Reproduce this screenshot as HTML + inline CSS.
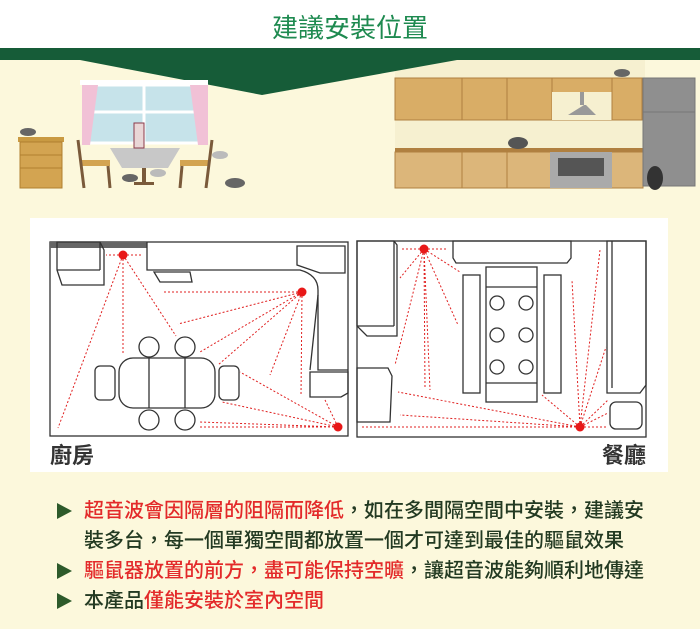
<!DOCTYPE html>
<html><head><meta charset="utf-8"><style>
body{margin:0;width:700px;height:629px;background:#fcf8dc;position:relative;overflow:hidden;font-family:"Liberation Sans","Noto Sans CJK TC",sans-serif}
.hdr{position:absolute;left:0;top:0;width:700px;height:48px;background:#fff}
.title{position:absolute;left:0;width:700px;top:8px;text-align:center;font-size:26px;color:#1e8a50}
.txt{position:absolute;left:84px;font-size:20px;color:#233a22;white-space:nowrap;line-height:30px;font-weight:500}
.r{color:#e32a2a}
.tri{position:absolute;left:57px;width:0;height:0;border-top:8px solid transparent;border-bottom:8px solid transparent;border-left:15px solid #2d5a2a}
</style></head><body>
<div class="hdr"></div>
<div class="title">建議安裝位置</div>
<svg width="700" height="629" style="position:absolute;left:0;top:0">
<rect x="395" y="60" width="250" height="88" fill="#f6f0d0"/>
<polygon points="0,48 700,48 700,60 457,60 262,95 80,60 0,60" fill="#165c38"/>
<rect x="80" y="80" width="128" height="5" fill="#fff"/>
<rect x="88" y="85" width="112" height="58" fill="#c6e3ea" stroke="#fff" stroke-width="3"/>
<line x1="144" y1="85" x2="144" y2="143" stroke="#fff" stroke-width="3"/>
<line x1="88" y1="112" x2="200" y2="112" stroke="#fff" stroke-width="3"/>
<polygon points="82,85 98,85 90,145 82,145" fill="#f1c1d6"/>
<polygon points="190,85 208,85 208,145 198,145" fill="#f1c1d6"/>
<rect x="18" y="137" width="46" height="5" fill="#c99a42"/>
<rect x="20" y="142" width="42" height="46" fill="#d3a451" stroke="#b07f30"/>
<line x1="20" y1="155" x2="62" y2="155" stroke="#b07f30"/><line x1="20" y1="168" x2="62" y2="168" stroke="#b07f30"/>
<polygon points="110,148 180,148 168,168 122,168" fill="#c8c8c8"/>
<rect x="142" y="168" width="4" height="14" fill="#7a5a3a"/>
<rect x="134" y="182" width="20" height="3" fill="#7a5a3a"/>
<rect x="134" y="123" width="10" height="25" fill="#e9d6d6" stroke="#8a3a4a"/>
<rect x="80" y="160" width="30" height="6" fill="#d3a451"/>
<rect x="180" y="160" width="30" height="6" fill="#d3a451"/>
<line x1="78" y1="140" x2="84" y2="188" stroke="#7a5a3a" stroke-width="3"/><line x1="108" y1="166" x2="110" y2="188" stroke="#7a5a3a" stroke-width="3"/>
<line x1="212" y1="140" x2="206" y2="188" stroke="#7a5a3a" stroke-width="3"/><line x1="182" y1="166" x2="180" y2="188" stroke="#7a5a3a" stroke-width="3"/>
<ellipse cx="28" cy="132" rx="8" ry="4" fill="#666"/>
<ellipse cx="130" cy="178" rx="8" ry="4" fill="#666"/>
<ellipse cx="235" cy="183" rx="10" ry="5" fill="#666"/>
<ellipse cx="220" cy="155" rx="8" ry="4" fill="#bbb"/>
<ellipse cx="158" cy="173" rx="8" ry="4" fill="#bbb"/>
<rect x="395" y="78" width="217" height="42" fill="#d9ad66" stroke="#b08040"/>
<line x1="462" y1="78" x2="462" y2="120" stroke="#b08040"/><line x1="507" y1="78" x2="507" y2="120" stroke="#b08040"/><line x1="552" y1="78" x2="552" y2="120" stroke="#b08040"/>
<rect x="552" y="92" width="60" height="28" fill="#f6f0d0"/>
<polygon points="568,115 596,115 586,105 580,105 580,92 584,92 584,105" fill="#999"/>
<rect x="612" y="78" width="30" height="42" fill="#d9ad66" stroke="#b08040"/>
<rect x="395" y="148" width="248" height="4" fill="#b08040"/>
<rect x="395" y="152" width="248" height="36" fill="#dcb67a" stroke="#b08040"/>
<line x1="462" y1="152" x2="462" y2="188" stroke="#b08040"/><line x1="507" y1="152" x2="507" y2="188" stroke="#b08040"/>
<rect x="550" y="152" width="62" height="36" fill="#aaa"/><rect x="558" y="158" width="46" height="18" fill="#555"/>
<rect x="643" y="78" width="52" height="108" fill="#8f8f8f" stroke="#777"/>
<line x1="643" y1="112" x2="695" y2="112" stroke="#777"/>
<ellipse cx="518" cy="143" rx="10" ry="6" fill="#555"/>
<ellipse cx="622" cy="73" rx="8" ry="4" fill="#666"/>
<ellipse cx="655" cy="178" rx="8" ry="12" fill="#333"/>
<rect x="30" y="218" width="638" height="254" fill="#fff"/>
<g fill="none" stroke="#333" stroke-width="1.3">
<rect x="50" y="242" width="298" height="194"/>
<rect x="50" y="242" width="97" height="6" fill="#666" stroke="none"/>
<polygon points="57,242 100,242 104,250 104,285 62,285 57,270"/>
<line x1="57" y1="270" x2="100" y2="270"/><line x1="100" y1="242" x2="100" y2="270"/>
<path d="M147,242 V270 H300 Q318,275 318,290 V370 H348"/>
<polygon points="154,272 190,272 192,282 160,282"/>
<polygon points="297,246 345,246 345,273 320,273 297,265"/>
<line x1="318" y1="295" x2="310" y2="370"/>
<polygon points="310,372 348,372 348,393 341,397 310,397"/>
<rect x="119" y="358" width="96" height="50" rx="14"/>
<line x1="149" y1="358" x2="149" y2="408"/><line x1="185" y1="358" x2="185" y2="408"/>
<circle cx="149" cy="347" r="10"/><circle cx="185" cy="347" r="10"/>
<circle cx="149" cy="420" r="10"/><circle cx="185" cy="420" r="10"/>
<rect x="95" y="366" width="20" height="34" rx="5"/><rect x="219" y="366" width="20" height="34" rx="5"/>
<rect x="357" y="241" width="289" height="196"/>
<polygon points="357,241 394,241 397,245 397,336 367,336 357,326"/>
<line x1="357" y1="326" x2="394" y2="326"/><line x1="394" y1="241" x2="394" y2="326"/>
<polygon points="357,368 388,368 392,376 390,422 357,422"/>
<polygon points="453,241 571,241 571,258 567,263 456,263 453,258"/>
<rect x="463" y="275" width="17" height="118"/><rect x="544" y="275" width="17" height="118"/>
<rect x="486" y="267" width="51" height="135"/>
<line x1="486" y1="287" x2="537" y2="287"/><line x1="486" y1="383" x2="537" y2="383"/>
<circle cx="497" cy="303" r="7"/><circle cx="526" cy="303" r="7"/>
<circle cx="497" cy="335" r="7"/><circle cx="526" cy="335" r="7"/>
<circle cx="497" cy="367" r="7"/><circle cx="526" cy="367" r="7"/>
<polygon points="607,241 646,241 646,385 640,393 607,393 607,246"/>
<line x1="612" y1="241" x2="612" y2="388"/>
<rect x="610" y="402" width="32" height="27" rx="6"/>
</g>
<g stroke="#e02020" stroke-width="1" stroke-dasharray="2,2" fill="none">
<path d="M123,255 H106 M123,255 H142 M123,255 L58,428 M123,255 V355 M123,255 L176,336"/>
<path d="M302,292 H162 M302,292 L178,324 M302,292 L200,352 M302,292 L218,365 M302,292 L270,375 M302,292 L301,396"/>
<path d="M338,427 L240,372 M338,427 L222,402 M338,427 L200,422 M338,427 H198 M338,427 L325,400"/>
<path d="M424,249 H400 M424,249 H448 M424,249 L400,278 M424,249 L395,365 M424,249 L425,388 M424,249 L430,390 M424,249 L458,325 M424,249 L460,272"/>
<path d="M580,427 H362 M580,427 L400,415 M580,427 L398,392 M580,427 L542,395 M580,427 L572,280 M580,427 L600,250 M580,427 L606,347 M580,427 L608,400 M580,427 L608,413 M580,427 H606"/>
</g>
<g fill="#e81818">
<circle cx="123" cy="255" r="4.5"/><circle cx="302" cy="292" r="4.5"/><circle cx="338" cy="427" r="4.5"/>
<circle cx="424" cy="249" r="4.5"/><circle cx="580" cy="427" r="4.5"/>
</g>
<text x="50" y="463" font-size="22" font-weight="bold" fill="#333" font-family="Liberation Sans, Noto Sans CJK TC, sans-serif">廚房</text>
<text x="602" y="463" font-size="22" font-weight="bold" fill="#333" font-family="Liberation Sans, Noto Sans CJK TC, sans-serif">餐廳</text>
</svg>
<div class="tri" style="top:503px"></div>
<div class="tri" style="top:563px"></div>
<div class="tri" style="top:593px"></div>
<div class="txt" style="top:496px"><span class="r">超音波會因隔層的阻隔而降低</span>，如在多間隔空間中安裝，建議安</div>
<div class="txt" style="top:526px">裝多台，每一個單獨空間都放置一個才可達到最佳的驅鼠效果</div>
<div class="txt" style="top:556px"><span class="r">驅鼠器放置的前方，盡可能保持空曠</span>，讓超音波能夠順利地傳達</div>
<div class="txt" style="top:586px">本產品<span class="r">僅能安裝於室內空間</span></div>
</body></html>
